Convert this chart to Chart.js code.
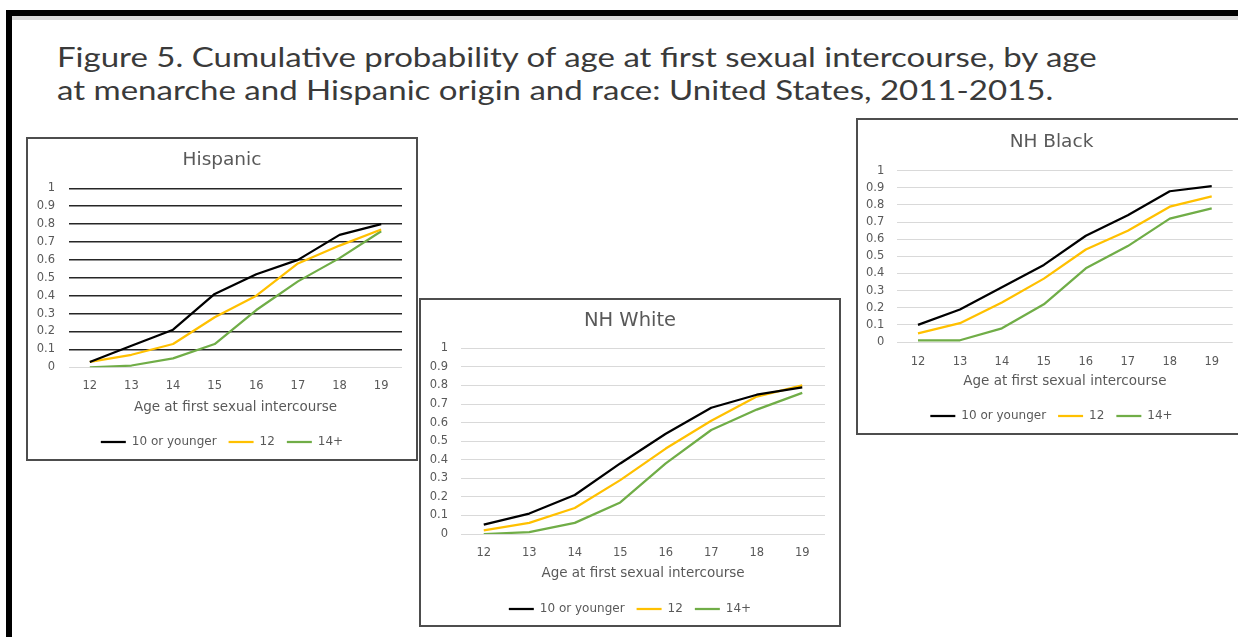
<!DOCTYPE html>
<html>
<head>
<meta charset="utf-8">
<script src="https://cdn.jsdelivr.net/npm/chart.js@4/dist/chart.umd.min.js"></script>
<style>
  html, body { margin: 0; padding: 0; background: #fff; overflow: hidden; }
  #page { position: relative; width: 1238px; height: 637px; overflow: hidden; background: #fff; }
  .frame-top { position: absolute; left: 6px; top: 10px; width: 1232px; height: 6px; background: #000; }
  .frame-shade { position: absolute; left: 12px; top: 16px; width: 1226px; height: 4px; background: #d9d9d9; }
  .frame-left { position: absolute; left: 6px; top: 10px; width: 6px; height: 627px; background: #000; }
  .heading { position: absolute; left: 57px; top: 41px; font-family: Lato, "Noto Sans", sans-serif;
             font-size: 26px; line-height: 33px; color: #3a3a3a; white-space: nowrap;
             transform: scaleX(1.27); transform-origin: 0 0; }
  .panel { position: absolute; box-sizing: border-box; border: 2px solid #4d4d4d; background: #fff; }
  .panel canvas { display: block; }
</style>
</head>
<body>
<div id="page">
  <div class="frame-top"></div>
  <div class="frame-shade"></div>
  <div class="frame-left"></div>
  <div class="heading">Figure 5. Cumulative probability of age at first sexual intercourse, by age<br>at menarche and Hispanic origin and race: United States, 2011-2015.</div>

  <div class="panel" style="left:26px; top:137px; width:392px; height:324px;">
    <canvas id="hisp" width="388" height="320" style="width:388px;height:320px"></canvas>
  </div>
  <div class="panel" style="left:419px; top:298px; width:422px; height:329px;">
    <canvas id="white" width="418" height="325" style="width:418px;height:325px"></canvas>
  </div>
  <div class="panel" style="left:856px; top:118px; width:391px; height:317px;">
    <canvas id="black" width="387" height="313" style="width:387px;height:313px"></canvas>
  </div>
</div>
<script>
// Age at first sexual intercourse (x categories)
const ages = ['12', '13', '14', '15', '16', '17', '18', '19'];
// Age-at-menarche groups
const groupNames = ['10 or younger', '12', '14+'];
const groupColors = ['#000000', '#FFC000', '#70AD47'];

// Cumulative probability, Hispanic
const hispYoung = [0.03, 0.12, 0.21, 0.41, 0.52, 0.60, 0.74, 0.80];
const hisp12    = [0.03, 0.07, 0.13, 0.28, 0.40, 0.58, 0.68, 0.77];
const hisp14    = [0.00, 0.01, 0.05, 0.13, 0.32, 0.48, 0.61, 0.76];

// Cumulative probability, non-Hispanic white
const whiteYoung = [0.05, 0.11, 0.21, 0.38, 0.54, 0.68, 0.75, 0.79];
const white12    = [0.02, 0.06, 0.14, 0.29, 0.46, 0.61, 0.74, 0.80];
const white14    = [0.00, 0.01, 0.06, 0.17, 0.38, 0.56, 0.67, 0.76];

// Cumulative probability, non-Hispanic black
const blackYoung = [0.10, 0.19, 0.32, 0.45, 0.62, 0.74, 0.88, 0.91];
const black12    = [0.05, 0.11, 0.23, 0.37, 0.54, 0.65, 0.79, 0.85];
const black14    = [0.01, 0.01, 0.08, 0.22, 0.43, 0.56, 0.72, 0.78];

const xTitle = 'Age at first sexual intercourse';
const grey = '#595959';

Chart.defaults.font.family = '"DejaVu Sans", sans-serif';

function buildChart(id, title, series, L) {
  const datasets = series.map((vals, i) => ({
    label: groupNames[i],
    data: vals,
    borderColor: groupColors[i],
    backgroundColor: groupColors[i],
    borderWidth: 2.25,
    pointRadius: 0,
    tension: 0,
    borderJoinStyle: 'round',
    fill: false
  }));
  return new Chart(document.getElementById(id), {
    type: 'line',
    data: { labels: ages, datasets },
    options: {
      responsive: false,
      animation: false,
      devicePixelRatio: 1,
      events: [],
      layout: { padding: { left: 0, right: 0, top: 0, bottom: L.padBottom } },
      plugins: {
        title: {
          display: true, text: title, color: grey,
          font: { size: L.titleSize, weight: 'normal' },
          padding: L.titlePad
        },
        legend: {
          position: 'bottom',
          labels: {
            usePointStyle: true, pointStyle: 'line', pointStyleWidth: 25,
            padding: 12, color: grey, font: { size: 12 }
          }
        },
        tooltip: { enabled: false }
      },
      scales: {
        x: {
          offset: true,
          grid: { display: false },
          border: { display: false },
          ticks: { color: grey, font: { size: 11.5 }, padding: L.xTickPad, maxRotation: 0 },
          title: { display: true, text: xTitle, color: grey, font: { size: 13.5 }, padding: { top: 0, bottom: L.xTitlePad } },
          afterFit: s => { s.height = L.xHeight; }
        },
        y: {
          min: 0, max: 1,
          border: { display: false },
          grid: {
            drawTicks: false,
            color: c => (c.tick && c.tick.value === 0) ? '#d9d9d9' : L.gridColor,
            lineWidth: c => (c.tick && c.tick.value === 0) ? 1 : L.gridWidth
          },
          ticks: {
            stepSize: 0.1, color: grey, font: { size: 11.5 }, padding: L.yTickPad,
            callback: v => String(+v.toFixed(1))
          },
          afterFit: s => { s.width = L.yWidth; }
        },
        // empty right-hand gutter between the plot and the frame
        gutter: {
          type: 'linear', axis: 'y', position: 'right', display: true,
          grid: { display: false }, border: { display: false },
          ticks: { display: false },
          afterFit: s => { s.width = L.gutter; }
        }
      }
    }
  });
}

buildChart('hisp', 'Hispanic', [hispYoung, hisp12, hisp14], {
  padBottom: 1,
  titleSize: 18.5, titlePad: { top: 10, bottom: 17.1 },
  xHeight: 56.7, xTickPad: 3.7, xTitlePad: 8.9,
  yWidth: 41, yTickPad: 14, gutter: 14, gridColor: '#262626', gridWidth: 1.5
});

buildChart('white', 'NH White', [whiteYoung, white12, white14], {
  padBottom: 0,
  titleSize: 19.5, titlePad: { top: 9.3, bottom: 15.6 },
  xHeight: 57, xTickPad: 4.1, xTitlePad: 9.9,
  yWidth: 40, yTickPad: 13, gutter: 14, gridColor: '#d9d9d9', gridWidth: 1
});

buildChart('black', 'NH Black', [blackYoung, black12, black14], {
  padBottom: 1,
  titleSize: 18.5, titlePad: { top: 10.9, bottom: 17.6 },
  xHeight: 56, xTickPad: 4.8, xTitlePad: 8.6,
  yWidth: 39, yTickPad: 12.7, gutter: 12.3, gridColor: '#d9d9d9', gridWidth: 1
});
</script>
</body>
</html>
